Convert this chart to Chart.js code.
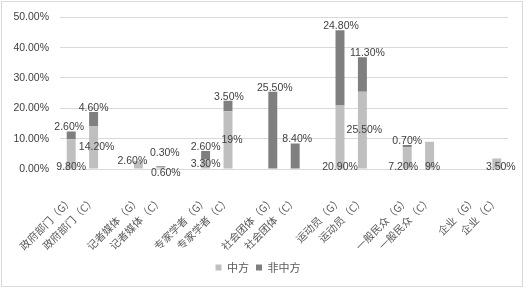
<!DOCTYPE html>
<html>
<head>
<meta charset="utf-8">
<script src="https://cdn.jsdelivr.net/npm/chart.js@4/dist/chart.umd.min.js"></script>
<style>
html,body{margin:0;padding:0;background:#fff;}
#wrap{width:525px;height:289px;position:relative;}
</style>
</head>
<body>
<div id="wrap"><canvas id="c" width="525" height="289"></canvas></div>
<script>
// Categories (empty strings are the gaps between groups)
const categories = ['政府部门（G）','政府部门（C）','','记者媒体（G）','记者媒体（C）','','专家学者（G）','专家学者（C）','','社会团体（G）','社会团体（C）','','运动员（G）','运动员（C）','','一般民众（G）','一般民众（C）','','企业（G）','企业（C）'];
// Series values (percent)
const chinese    = [9.8, 14.2, null, 2.6, 0.6, null, 3.3, 19, null, null, null, null, 20.9, 25.5, null, 7.2, 9, null, null, 3.5];
const nonChinese = [2.6, 4.6, null, null, 0.3, null, 2.6, 3.5, null, 25.5, 8.4, null, 24.8, 11.3, null, 0.7, null, null, null, null];
const seriesNames = ['中方','非中方'];
// Y axis ticks
const yTicks = [0,5,10,15,20,25,30,35,40,45,50];

// Label placement style per point (presentation only)
const chineseLabelMode = ['base','center',null,'topIn','below',null,'center','center',null,null,null,null,'base','center',null,'base','base',null,null,'base'];
const nonChineseLabelMode = ['top','top',null,null,'above',null,'top','top',null,'top','top',null,'top','top',null,'top',null,null,null,null];
const chineseLabelNudge = [0,3,0,-6,5,0,0,4,0,0,0,0,0,2,0,-4,3,0,0,4];
const nonChineseLabelNudge = [-2,0,0,0,4,0,0,1,0,2,2,0,1,5,0,0,0,0,0,0];

function fmt(v){ return Number.isInteger(v) ? v + '%' : v.toFixed(2) + '%'; }

const labelPlugin = {
  id: 'barLabels',
  afterDatasetsDraw(chart){
    const ctx = chart.ctx;
    const modes = [chineseLabelMode, nonChineseLabelMode];
    const nudges = [chineseLabelNudge, nonChineseLabelNudge];
    ctx.save();
    ctx.font = '10.5px "Liberation Sans", Arial, sans-serif';
    ctx.fillStyle = '#404040';
    ctx.textAlign = 'center';
    ctx.textBaseline = 'middle';
    chart.data.datasets.forEach((ds, di) => {
      const meta = chart.getDatasetMeta(di);
      ds.data.forEach((v, i) => {
        if (v == null) return;
        const el = meta.data[i];
        const mode = modes[di][i];
        let y;
        const top = Math.min(el.y, el.base), bottom = Math.max(el.y, el.base);
        if (mode === 'top') y = top - 4;
        else if (mode === 'above') y = top - 13;
        else if (mode === 'topIn') y = top;
        else if (mode === 'center') y = (top + bottom) / 2;
        else if (mode === 'base') y = bottom - 1;
        else if (mode === 'below') y = bottom + 4.5;
        else return;
        ctx.fillText(fmt(v), el.x + nudges[di][i], y);
      });
    });
    ctx.restore();
  }
};

const borderPlugin = {
  id: 'frame',
  beforeDraw(chart){
    const ctx = chart.ctx;
    ctx.save();
    ctx.fillStyle = '#fff';
    ctx.fillRect(0,0,chart.width,chart.height);
    ctx.strokeStyle = '#d9d9d9';
    ctx.lineWidth = 1;
    ctx.strokeRect(1.5, 1.5, chart.width - 4, chart.height - 4);
    ctx.restore();
  }
};

new Chart(document.getElementById('c'), {
  type: 'bar',
  data: {
    labels: categories,
    datasets: [
      { label: seriesNames[0], data: chinese, backgroundColor: '#bfbfbf', barPercentage: 0.4, categoryPercentage: 1 },
      { label: seriesNames[1], data: nonChinese, backgroundColor: '#7f7f7f', barPercentage: 0.4, categoryPercentage: 1 }
    ]
  },
  options: {
    responsive: false,
    animation: false,
    devicePixelRatio: 1,
    layout: { padding: { left: 8, right: 17, top: 15, bottom: 6 } },
    plugins: {
      legend: {
        position: 'bottom',
        labels: {
          boxWidth: 6, boxHeight: 6, padding: 7,
          color: '#595959',
          font: { family: '"Noto Sans CJK SC", sans-serif', size: 11 }
        }
      },
      tooltip: { enabled: false }
    },
    scales: {
      x: {
        stacked: true,
        grid: { display: false },
        border: { display: true, color: '#d9d9d9' },
        ticks: {
          autoSkip: false, maxRotation: 45, minRotation: 45, padding: 17,
          color: '#595959',
          font: { family: '"Noto Sans CJK SC", sans-serif', size: 10.5 }
        },
        afterFit(scale){ scale.height = 86; }
      },
      y: {
        stacked: true,
        min: 0, max: 50,
        afterBuildTicks(scale){ scale.ticks = yTicks.map(v => ({ value: v })); },
        grid: { color: '#d9d9d9', drawTicks: false },
        border: { display: false },
        ticks: {
          padding: 11,
          color: '#404040',
          font: { family: '"Liberation Sans", Arial, sans-serif', size: 10.5 },
          callback: v => v.toFixed(2) + '%'
        },
        afterFit(scale){ scale.width = 52; }
      }
    }
  },
  plugins: [borderPlugin, labelPlugin]
});
</script>
</body>
</html>
